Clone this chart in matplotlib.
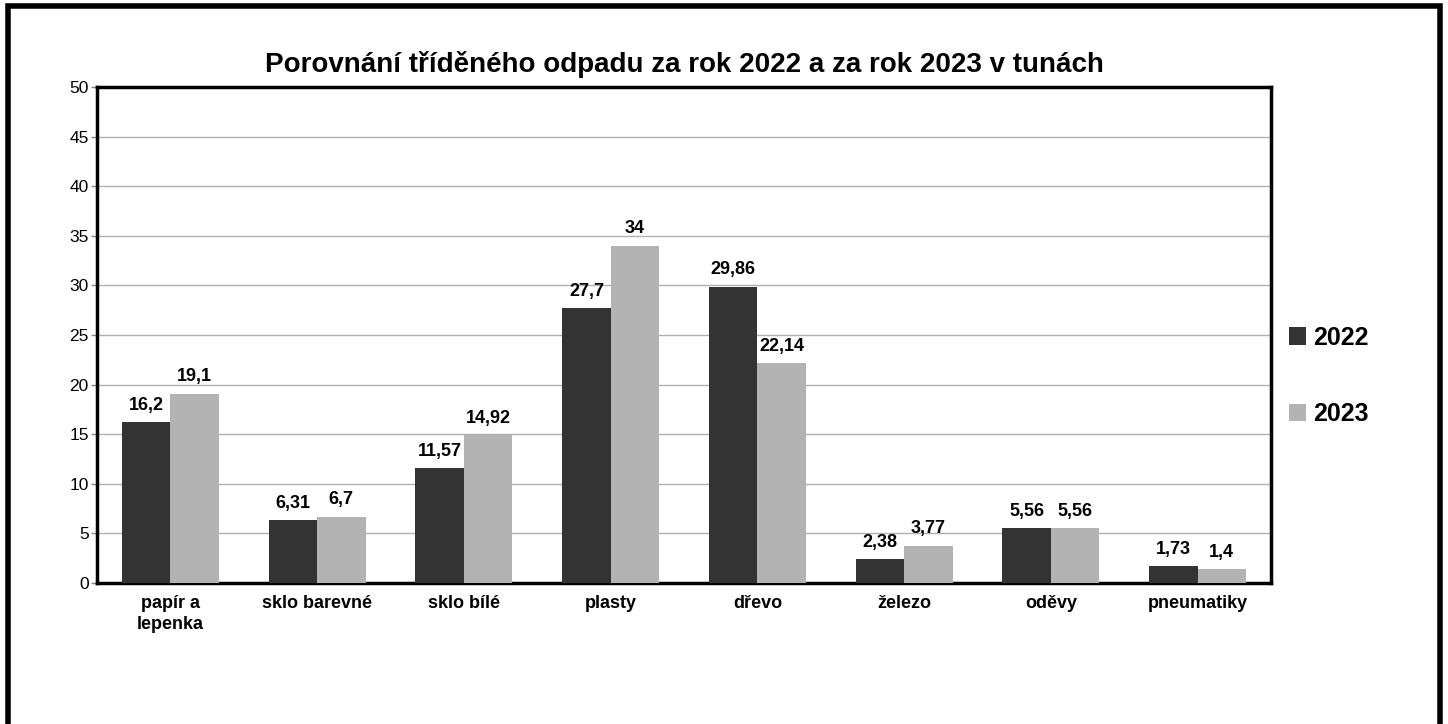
import matplotlib
matplotlib.use("Agg")
import matplotlib.pyplot as plt
import numpy as np
from matplotlib.patches import Rectangle

categories = ["papír a\nlepenka", "sklo barevné", "sklo bílé", "plasty", "dřevo", "železo", "oděvy", "pneumatiky"]
values_2022 = [16.2, 6.31, 11.57, 27.7, 29.86, 2.38, 5.56, 1.73]
values_2023 = [19.1, 6.7, 14.92, 34, 22.14, 3.77, 5.56, 1.4]
series_names = ["2022", "2023"]
labels_2022 = ["16,2", "6,31", "11,57", "27,7", "29,86", "2,38", "5,56", "1,73"]
labels_2023 = ["19,1", "6,7", "14,92", "34", "22,14", "3,77", "5,56", "1,4"]
yticks = [0, 5, 10, 15, 20, 25, 30, 35, 40, 45, 50]
title = "Porovnání tříděného odpadu za rok 2022 a za rok 2023 v tunách"

plt.rcParams['font.family'] = ['Liberation Sans', 'DejaVu Sans']

c1 = "#333333"
c2 = "#b3b3b3"

fig = plt.figure(figsize=(14.48, 7.24), dpi=100)
fig.patch.set_facecolor("white")
# outer frame
fig.add_artist(Rectangle((8/1448, -0.01), (1440-8)/1448, 1 - 6/724 + 0.01, transform=fig.transFigure,
                         fill=False, edgecolor="black", linewidth=4))

ax = fig.add_axes([97/1448, 1 - 583/724, (1271-97)/1448, (583-87)/724])
x = np.arange(len(categories))
w = 0.33
b1 = ax.bar(x - w/2, values_2022, w, color=c1, label=series_names[0], zorder=3)
b2 = ax.bar(x + w/2, values_2023, w, color=c2, label=series_names[1], zorder=3)
for bars, labs in ((b1, labels_2022), (b2, labels_2023)):
    for rect, lab in zip(bars, labs):
        ax.annotate(lab, (rect.get_x() + rect.get_width()/2, rect.get_height()), xytext=(0, 6),
                    textcoords="offset points", ha="center", va="bottom", fontsize=13,
                    fontweight="bold", zorder=4)

ax.set_xlim(-0.5, len(categories) - 0.5)
ax.set_ylim(0, 50)
ax.set_yticks(yticks)
ax.set_yticklabels([str(t) for t in yticks], fontsize=12.5)
ax.set_xticks(x)
ax.set_xticklabels(categories, fontsize=13, fontweight="bold", va="top", linespacing=1.25)
ax.tick_params(axis="x", length=0, pad=9)
ax.tick_params(axis="y", length=4, width=1, color="#888888", pad=2)
ax.yaxis.grid(True, color="#b0b0b0", linewidth=1, zorder=0)
for s in ax.spines.values():
    s.set_linewidth(2.5)
    s.set_color("black")
ax.set_title(title, fontsize=20, fontweight="bold", pad=11)

leg = fig.legend(handles=[b1, b2], labels=series_names, loc="center left",
                 bbox_to_anchor=(1266/1448, 1 - 376/724), frameon=False,
                 prop={"size": 18, "weight": "bold"}, handlelength=0.7, handleheight=0.7,
                 handletextpad=0.3, labelspacing=2.1)

fig.savefig("out.png", dpi=100)
